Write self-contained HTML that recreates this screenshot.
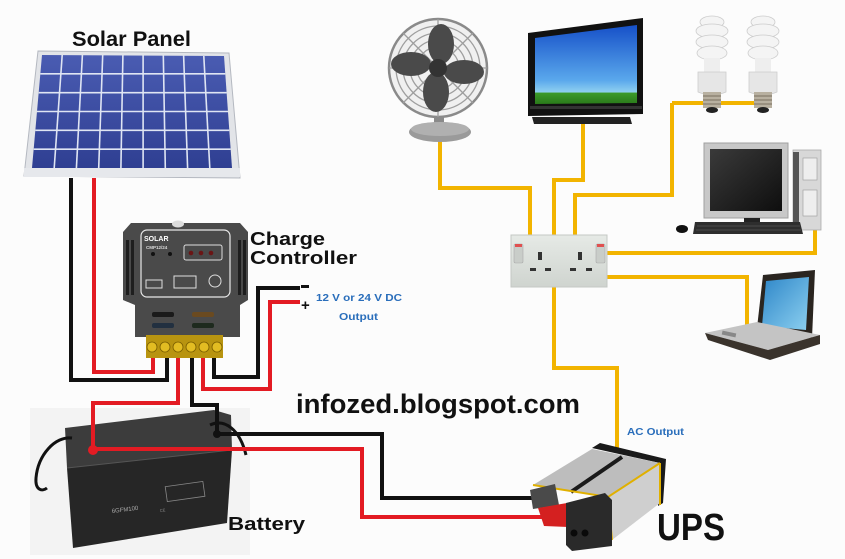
<!DOCTYPE html>
<html><head><meta charset="utf-8"><style>
html,body{margin:0;padding:0;background:#fcfcfc;}
svg{display:block;}
text{font-family:"Liberation Sans",Arial,sans-serif;}
</style></head><body>
<svg width="845" height="559" viewBox="0 0 845 559" xmlns="http://www.w3.org/2000/svg">
<defs>
<linearGradient id="pan" x1="0" y1="0" x2="0" y2="1"><stop offset="0" stop-color="#4a5cb2"/><stop offset="1" stop-color="#2f3f92"/></linearGradient>
<linearGradient id="scr" x1="0" y1="0" x2="0" y2="1"><stop offset="0" stop-color="#1650c8"/><stop offset="0.7" stop-color="#5aa8ec"/><stop offset="0.85" stop-color="#8fd0f0"/><stop offset="0.86" stop-color="#3c9a2a"/><stop offset="1" stop-color="#2a7a1a"/></linearGradient>
<linearGradient id="sock" x1="0" y1="0" x2="0" y2="1"><stop offset="0" stop-color="#e6eae6"/><stop offset="1" stop-color="#cfd4cf"/></linearGradient>
<linearGradient id="lap" x1="0" y1="0" x2="1" y2="1"><stop offset="0" stop-color="#2e86c8"/><stop offset="1" stop-color="#8cd0f0"/></linearGradient>
<linearGradient id="mon" x1="0" y1="0" x2="1" y2="1"><stop offset="0" stop-color="#3a3a3a"/><stop offset="1" stop-color="#0e0e0e"/></linearGradient>
</defs>
<rect width="845" height="559" fill="#fcfcfc"/>

<!-- Solar panel -->
<polygon points="38,51 229,53 240,178 24,176" fill="#e2e4e8" stroke="#b4b8c0" stroke-width="1"/>
<polygon points="42,55 224,56 232,168 32,168" fill="url(#pan)"/>
<g stroke="#dfe5f3" stroke-width="1.6">
<line x1="62.2" y1="55" x2="54.2" y2="168"/><line x1="82.4" y1="55" x2="76.4" y2="168"/>
<line x1="102.7" y1="55" x2="98.7" y2="168"/><line x1="122.9" y1="55" x2="120.9" y2="168"/>
<line x1="143.1" y1="55" x2="143.1" y2="168"/><line x1="163.3" y1="55" x2="165.3" y2="168"/>
<line x1="183.6" y1="55" x2="187.6" y2="168"/><line x1="203.8" y1="56" x2="209.8" y2="168"/>
<line x1="40.3" y1="73.8" x2="225.3" y2="73.8"/><line x1="38.7" y1="92.7" x2="226.7" y2="92.7"/>
<line x1="37" y1="111.5" x2="228" y2="111.5"/><line x1="35.3" y1="130.3" x2="229.3" y2="130.3"/>
<line x1="33.7" y1="149.2" x2="230.7" y2="149.2"/>
</g>
<rect x="24" y="168" width="216" height="9" fill="#e6e8ec"/>
<text x="72" y="46" font-size="21" font-weight="bold" textLength="119" lengthAdjust="spacingAndGlyphs" fill="#111">Solar Panel</text>

<!-- Charge controller -->
<polygon points="131,223 240,223 248,232 248,300 240,305 240,337 135,337 135,305 123,300 123,232" fill="#4a4a4a"/>
<g fill="#1e1e1e">
<rect x="126" y="240" width="3" height="55"/><rect x="131" y="240" width="3" height="55"/>
<rect x="238" y="240" width="3" height="55"/><rect x="243" y="240" width="3" height="55"/>
</g>
<rect x="141" y="230" width="89" height="67" rx="6" fill="none" stroke="#e8e8e8" stroke-width="1.2"/>
<ellipse cx="178" cy="224" rx="6" ry="3.5" fill="#ddd"/>
<text x="144" y="241" font-size="7" font-weight="bold" fill="#fff">SOLAR</text>
<text x="146" y="249" font-size="4.5" font-weight="bold" fill="#ddd">CMP12/24</text>
<circle cx="153" cy="254" r="2" fill="#111"/><circle cx="170" cy="254" r="2" fill="#111"/>
<rect x="184" y="245" width="38" height="15" rx="2" fill="none" stroke="#ddd" stroke-width="1"/>
<circle cx="191" cy="253" r="2.3" fill="#6a1515"/><circle cx="201" cy="253" r="2.3" fill="#6a1515"/><circle cx="211" cy="253" r="2.3" fill="#6a1515"/>
<g fill="none" stroke="#ddd" stroke-width="1">
<rect x="146" y="280" width="16" height="8"/><rect x="174" y="276" width="22" height="12"/><circle cx="215" cy="281" r="6"/>
</g>
<rect x="152" y="312" width="22" height="5" rx="2" fill="#1a1a1a"/><rect x="192" y="312" width="22" height="5" rx="2" fill="#6a4a20"/>
<rect x="152" y="323" width="22" height="5" rx="2" fill="#223040"/><rect x="192" y="323" width="22" height="5" rx="2" fill="#1e2a1e"/>
<rect x="146" y="335" width="77" height="23" fill="#b89410"/>
<g fill="#e2bc22" stroke="#7a5e00" stroke-width="0.8">
<circle cx="152" cy="347" r="5"/><circle cx="165" cy="347" r="5"/><circle cx="178" cy="347" r="5"/>
<circle cx="191" cy="347" r="5"/><circle cx="204" cy="347" r="5"/><circle cx="217" cy="347" r="5"/>
</g>
<text x="250" y="245" font-size="18" font-weight="bold" textLength="75" lengthAdjust="spacingAndGlyphs" fill="#111">Charge</text>
<text x="250" y="264" font-size="18" font-weight="bold" textLength="107" lengthAdjust="spacingAndGlyphs" fill="#111">Controller</text>

<!-- Battery -->
<rect x="30" y="408" width="220" height="147" fill="#f3f3f3"/>
<polygon points="65,428 214,410 231,415 232,450 67,468" fill="#3c3c3c"/>
<polygon points="67,468 232,450 227,523 73,548" fill="#262626"/>
<line x1="67" y1="468" x2="232" y2="450" stroke="#555" stroke-width="1"/>
<path d="M72,438 C55,436 38,455 36,478 C35,490 42,492 47,488" fill="none" stroke="#111" stroke-width="3"/>
<path d="M210,425 C225,418 240,430 246,455" fill="none" stroke="#111" stroke-width="3"/>
<rect x="166" y="484" width="38" height="15" fill="none" stroke="#888" stroke-width="0.8" transform="rotate(-8 185 491)"/>
<text x="112" y="513" font-size="6" fill="#aaa" transform="rotate(-7 112 513)">6GFM100</text>
<text x="160" y="512" font-size="4" fill="#888" transform="rotate(-7 160 512)">CE</text>
<text x="228" y="530" font-size="18" font-weight="bold" textLength="77" lengthAdjust="spacingAndGlyphs" fill="#111">Battery</text>

<!-- DC wires -->
<g fill="none" stroke-width="4" stroke-linejoin="miter">
<path d="M71,178 V380 H167 V358" stroke="#111"/>
<path d="M94,178 V372 H153 V358" stroke="#e31b23"/>
<path d="M178,358 V403 H93 V450" stroke="#e31b23"/>
<path d="M192,358 V405 H217 V434" stroke="#111"/>
<path d="M214,358 V377 H258 V288 H300" stroke="#111"/>
<path d="M203,358 V389 H270 V302 H300" stroke="#e31b23"/>
<path d="M217,434 H382 V498 H532" stroke="#111"/>
<path d="M93,449 H362 V517 H543" stroke="#e31b23"/>
</g>
<circle cx="93" cy="450" r="5" fill="#e31b23"/>
<circle cx="217" cy="434" r="4" fill="#111"/>
<rect x="301" y="285" width="8" height="3" fill="#111"/>
<text x="301" y="310" font-size="15" font-weight="bold" fill="#111">+</text>
<text x="316" y="301" font-size="10.5" font-weight="bold" textLength="86" lengthAdjust="spacingAndGlyphs" fill="#2a6ebb">12 V or 24 V DC</text>
<text x="339" y="320" font-size="10.5" font-weight="bold" textLength="39" lengthAdjust="spacingAndGlyphs" fill="#2a6ebb">Output</text>

<text x="296" y="413" font-size="27" font-weight="bold" textLength="284" lengthAdjust="spacingAndGlyphs" fill="#111">infozed.blogspot.com</text>

<!-- Yellow AC wires -->
<g fill="none" stroke="#f2b400" stroke-width="4">
<path d="M440,140 V188 H530 V235"/>
<path d="M583,123 V180 H554 V235"/>
<path d="M672,103 H763"/>
<path d="M672,103 V195 H575 V235"/>
<path d="M607,253 H815 V227"/>
<path d="M607,277 H747 V325"/>
<path d="M554,287 V368 H617 V452"/>
</g>

<!-- Socket -->
<rect x="511" y="235" width="96" height="52" fill="url(#sock)" stroke="#c4c8c4" stroke-width="1"/>
<rect x="514" y="244" width="9" height="19" rx="1.5" fill="#c9cdc9" stroke="#aaa" stroke-width="0.6"/>
<rect x="515" y="244" width="7" height="3" fill="#e05050"/>
<rect x="596" y="244" width="9" height="19" rx="1.5" fill="#c9cdc9" stroke="#aaa" stroke-width="0.6"/>
<rect x="597" y="244" width="7" height="3" fill="#e05050"/>
<g fill="#333">
<rect x="538" y="252" width="4" height="8"/><rect x="530" y="268" width="6" height="3"/><rect x="545" y="268" width="6" height="3"/>
<rect x="578" y="252" width="4" height="8"/><rect x="570" y="268" width="6" height="3"/><rect x="586" y="268" width="6" height="3"/>
</g>

<!-- Fan -->
<rect x="434" y="112" width="10" height="14" fill="#8a8a8a"/>
<ellipse cx="440" cy="132" rx="31" ry="10" fill="#9a9a9a"/>
<ellipse cx="440" cy="129" rx="29" ry="7" fill="#b0b0b0"/>
<circle cx="438" cy="68" r="49" fill="#f0f0f0" stroke="#8a8a8a" stroke-width="2.5"/>
<g fill="none" stroke="#9e9e9e" stroke-width="1.3">
<circle cx="438" cy="68" r="42"/><circle cx="438" cy="68" r="35"/><circle cx="438" cy="68" r="28"/><circle cx="438" cy="68" r="21"/>
<line x1="438" y1="19" x2="438" y2="117"/><line x1="389" y1="68" x2="487" y2="68"/>
<line x1="403" y1="33" x2="473" y2="103"/><line x1="473" y1="33" x2="403" y2="103"/>
</g>
<g fill="#4a4a4a">
<ellipse cx="441" cy="44" rx="13" ry="20"/>
<ellipse cx="464" cy="72" rx="20" ry="12"/>
<ellipse cx="436" cy="92" rx="13" ry="20"/>
<ellipse cx="411" cy="64" rx="20" ry="12"/>
</g>
<circle cx="438" cy="68" r="9" fill="#333"/>

<!-- TV -->
<polygon points="528,33 643,18 643,114 528,116" fill="#111"/>
<polygon points="535,38 637,25 637,103 535,104" fill="url(#scr)"/>
<rect x="530" y="106" width="112" height="3" fill="#333"/>
<polygon points="532,117 630,117 632,124 534,124" fill="#222"/>

<!-- Bulbs -->
<g>
<ellipse cx="712" cy="22" rx="12" ry="6" fill="#f4f4f4" stroke="#ccc" stroke-width="0.8"/>
<ellipse cx="712" cy="31" rx="16" ry="7" fill="#f4f4f4" stroke="#ccc" stroke-width="0.8"/>
<ellipse cx="712" cy="42" rx="16" ry="7" fill="#f4f4f4" stroke="#ccc" stroke-width="0.8"/>
<ellipse cx="712" cy="53" rx="15" ry="7" fill="#f4f4f4" stroke="#ccc" stroke-width="0.8"/>
<rect x="704" y="58" width="16" height="16" fill="#eee"/>
<path d="M698,72 H726 V92 Q712,98 698,92 Z" fill="#e6e6e6" stroke="#ccc" stroke-width="0.8"/>
<rect x="703" y="92" width="18" height="16" fill="#b8b0a0"/>
<g stroke="#7a7060" stroke-width="1"><line x1="703" y1="96" x2="721" y2="96"/><line x1="703" y1="100" x2="721" y2="100"/><line x1="703" y1="104" x2="721" y2="104"/></g>
<ellipse cx="712" cy="110" rx="6" ry="3" fill="#222"/>
</g>
<g>
<ellipse cx="763" cy="22" rx="12" ry="6" fill="#f4f4f4" stroke="#ccc" stroke-width="0.8"/>
<ellipse cx="763" cy="31" rx="16" ry="7" fill="#f4f4f4" stroke="#ccc" stroke-width="0.8"/>
<ellipse cx="763" cy="42" rx="16" ry="7" fill="#f4f4f4" stroke="#ccc" stroke-width="0.8"/>
<ellipse cx="763" cy="53" rx="15" ry="7" fill="#f4f4f4" stroke="#ccc" stroke-width="0.8"/>
<rect x="755" y="58" width="16" height="16" fill="#eee"/>
<path d="M749,72 H777 V92 Q763,98 749,92 Z" fill="#e6e6e6" stroke="#ccc" stroke-width="0.8"/>
<rect x="754" y="92" width="18" height="16" fill="#b8b0a0"/>
<g stroke="#7a7060" stroke-width="1"><line x1="754" y1="96" x2="772" y2="96"/><line x1="754" y1="100" x2="772" y2="100"/><line x1="754" y1="104" x2="772" y2="104"/></g>
<ellipse cx="763" cy="110" rx="6" ry="3" fill="#222"/>
</g>

<!-- Computer -->
<rect x="793" y="150" width="28" height="80" fill="#d8d8d8" stroke="#aaa" stroke-width="0.8"/>
<rect x="793" y="152" width="6" height="76" fill="#555"/>
<rect x="803" y="158" width="14" height="22" fill="#eee" stroke="#999" stroke-width="0.6"/>
<rect x="803" y="190" width="14" height="26" fill="#eee" stroke="#999" stroke-width="0.6"/>
<rect x="704" y="143" width="84" height="75" fill="#c8c8c8" stroke="#a0a0a0" stroke-width="1"/>
<rect x="710" y="149" width="72" height="62" fill="url(#mon)"/>
<rect x="744" y="218" width="16" height="4" fill="#222"/>
<polygon points="695,222 800,222 803,234 693,234" fill="#2e2e2e"/>
<g stroke="#666" stroke-width="0.6"><line x1="697" y1="226" x2="800" y2="226"/><line x1="696" y1="230" x2="801" y2="230"/></g>
<ellipse cx="682" cy="229" rx="6" ry="4" fill="#111"/>

<!-- Laptop -->
<polygon points="757,328 763,275 815,270 812,338" fill="#2a2520"/>
<polygon points="766,281 809,277 806,330 762,326" fill="url(#lap)"/>
<polygon points="705,333 757,322 820,335 768,350" fill="#c4c4c4"/>
<polygon points="705,333 768,350 820,335 820,344 770,360 708,340" fill="#3a332c"/>
<rect x="722" y="332" width="14" height="4" fill="#888" transform="rotate(12 729 334)"/>

<!-- UPS -->
<polygon points="592,448 600,443 666,459 663,503 658,506 660,463" fill="#1a1a1a"/>
<polygon points="533,485 592,449 660,463 608,497" fill="#bdbdbd"/>
<line x1="571" y1="492" x2="622" y2="457" stroke="#1a1a1a" stroke-width="4"/>
<polygon points="608,497 660,463 660,503 612,540" fill="#cfcfcf"/>
<g stroke="#e0b000" stroke-width="2" fill="none">
<polyline points="533,485 608,497 660,463"/>
<line x1="608" y1="497" x2="612" y2="540"/>
<line x1="660" y1="463" x2="660" y2="505"/>
</g>
<polygon points="530,490 555,484 559,505 533,509" fill="#4a4a4a"/>
<polygon points="538,508 567,503 568,527 544,526" fill="#d42020"/>
<polygon points="566,503 605,493 612,500 612,546 572,551 566,545" fill="#2a2a2a"/>
<circle cx="574" cy="533" r="3.5" fill="#0a0a0a"/><circle cx="585" cy="533" r="3.5" fill="#0a0a0a"/>
<text x="627" y="435" font-size="10.5" font-weight="bold" textLength="57" lengthAdjust="spacingAndGlyphs" fill="#2a6ebb">AC Output</text>
<text x="657" y="540" font-size="38" font-weight="bold" textLength="68" lengthAdjust="spacingAndGlyphs" fill="#111">UPS</text>
</svg>
</body></html>
